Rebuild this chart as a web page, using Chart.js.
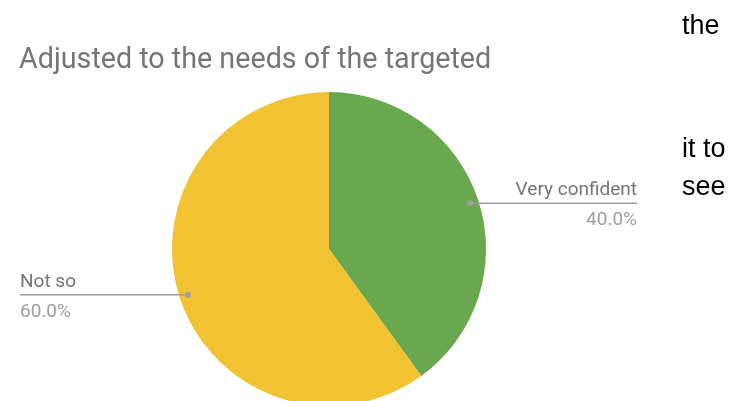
<!DOCTYPE html>
<html>
<head>
<meta charset="utf-8">
<script src="https://cdn.jsdelivr.net/npm/chart.js@4"></script>
<style>
  html, body { margin: 0; padding: 0; background: #fff; overflow: hidden; width: 735px; height: 401px; }
  #wrap { position: absolute; left: 0; top: 0; width: 735px; height: 420px; }
  .doc { position: absolute; left: 682px; font-family: "Liberation Sans", Arial, sans-serif; font-size: 27px; color: #000; line-height: 1; white-space: nowrap; }
</style>
</head>
<body>
<div id="wrap"><canvas id="pie" width="735" height="420"></canvas></div>
<div class="doc" style="top:12px">the</div>
<div class="doc" style="top:135px">it to</div>
<div class="doc" style="top:173px">see</div>
<script>
const chartTitle = "Adjusted to the needs of the targeted";
const categories = ["Very confident", "Not so"];
const values = [40, 60];
const sliceColors = ["#6aa84f", "#f1c232"];

// Title and callout labels with leader lines, drawn after the slices
const calloutPlugin = {
  id: "callouts",
  afterDraw(chart) {
    const ctx = chart.ctx;
    ctx.save();
    ctx.fillStyle = "#757575";
    ctx.font = "28.7px Roboto";
    ctx.textAlign = "left";
    ctx.textBaseline = "alphabetic";
    ctx.fillText(chartTitle, 19, 68);

    const meta = chart.getDatasetMeta(0);
    const total = values.reduce((a, b) => a + b, 0);
    meta.data.forEach((arc, i) => {
      const mid = (arc.startAngle + arc.endAngle) / 2;
      const r = arc.outerRadius * 0.945;
      const px = arc.x + Math.cos(mid) * r;
      const py = arc.y + Math.sin(mid) * r;
      const right = Math.cos(mid) >= 0;
      const endX = right ? 637 : 20;

      ctx.strokeStyle = "#9e9e9e";
      ctx.lineWidth = 1.5;
      ctx.beginPath();
      ctx.moveTo(px, py);
      ctx.lineTo(endX, py);
      ctx.stroke();

      ctx.fillStyle = "#9e9e9e";
      ctx.beginPath();
      ctx.arc(px, py, 3, 0, Math.PI * 2);
      ctx.fill();

      ctx.textAlign = right ? "right" : "left";
      ctx.font = "19px Roboto";
      ctx.fillStyle = "#757575";
      ctx.fillText(categories[i], endX, py - 8);
      ctx.fillStyle = "#9e9e9e";
      const pct = (values[i] / total * 100).toFixed(1) + "%";
      ctx.fillText(pct, endX, py + 22);
    });
    ctx.restore();
  }
};

new Chart(document.getElementById("pie"), {
  type: "pie",
  data: {
    labels: categories,
    datasets: [{
      data: values,
      backgroundColor: sliceColors,
      borderWidth: 0
    }]
  },
  options: {
    responsive: false,
    devicePixelRatio: 1,
    animation: false,
    layout: { padding: { left: 172, right: 249, top: 92, bottom: 14 } },
    plugins: {
      legend: { display: false },
      tooltip: { enabled: false },
      title: { display: false }
    }
  },
  plugins: [calloutPlugin]
});
</script>
</body>
</html>
